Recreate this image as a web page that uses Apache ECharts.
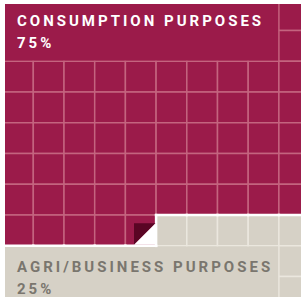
<!DOCTYPE html>
<html>
<head>
<meta charset="utf-8">
<script src="https://cdn.jsdelivr.net/npm/echarts@6/dist/echarts.min.js"></script>
<style>
  html, body { margin: 0; padding: 0; background: #fff; }
  #chart { width: 301px; height: 297px; }
  #chart text { letter-spacing: 3px; }
</style>
</head>
<body>
<div id="chart"></div>
<script>
// waffle chart, 10 x 10 cells filled in reading order
const categories = ["CONSUMPTION PURPOSES", "AGRI/BUSINESS PURPOSES"];
const shares = [75, 25];
const shareLabels = ["75%", "25%"];
const columns = 10;
const rows = 10;

const fills = ["#9b1b4a", "#d6d1c6"];
const lineColors = ["#c4647f", "#ebe7de"];
const textColors = ["#ffffff", "#7a766e"];

// one entry per cell: [col, row, category]
let cells = [];
let k = 0;
shares.forEach(function (n, ci) {
  for (let i = 0; i < n; i++) {
    cells.push([k % columns, Math.floor(k / columns), ci]);
    k++;
  }
});

// label boxes: top block for the first share, bottom block for the second
let labelBoxes = [[0, 0, 0], [0, rows - 2, 1]];

function catAt(col, row) {
  if (col >= columns || row >= rows) return -1;
  return cells[row * columns + col][2];
}

function renderCell(params, api) {
  let c = api.value(0), r = api.value(1), ci = api.value(2);
  let p0 = api.coord([c, r]);
  let p1 = api.coord([c + 1, r + 1]);
  return {
    type: "rect",
    shape: { x: p0[0], y: p0[1], width: p1[0] - p0[0], height: p1[1] - p0[1] },
    style: { fill: fills[ci], stroke: lineColors[ci], lineWidth: 1.5 }
  };
}

function renderLabel(params, api) {
  let c = api.value(0), r = api.value(1), ci = api.value(2);
  let p0 = api.coord([c, r]);
  let p1 = api.coord([c + columns - 1, r + 2]);
  let font = "bold 15px Roboto";
  return {
    type: "group",
    children: [
      {
        type: "rect",
        shape: { x: p0[0] + 0.75, y: p0[1] + 0.75, width: p1[0] - p0[0] - 1.5, height: p1[1] - p0[1] - 1.5 },
        style: { fill: fills[ci] }
      },
      {
        type: "text",
        x: p0[0] + 14.4,
        y: p0[1] + 21.6,
        style: { text: categories[ci], fill: textColors[ci], font: font, verticalAlign: "middle" }
      },
      {
        type: "text",
        x: p0[0] + 14.4,
        y: p0[1] + 43.2,
        style: { text: shareLabels[ci], fill: textColors[ci], font: font, verticalAlign: "middle" }
      }
    ]
  };
}

// white border where the two shares meet, plus the folded corner
function renderEdge(params, api) {
  let c = api.value(0), r = api.value(1), ci = api.value(2);
  let p0 = api.coord([c, r]);
  let p1 = api.coord([c + 1, r + 1]);
  let children = [];
  let right = catAt(c + 1, r);
  let below = catAt(c, r + 1);
  if (right >= 0 && right !== ci) {
    children.push({
      type: "line",
      shape: { x1: p1[0], y1: p0[1] - 1.25, x2: p1[0], y2: p1[1] + 1.25 },
      style: { stroke: "#fff", lineWidth: 2.5 }
    });
  }
  if (below >= 0 && below !== ci) {
    children.push({
      type: "line",
      shape: { x1: p0[0] - 1.25, y1: p1[1], x2: p1[0] + 1.25, y2: p1[1] },
      style: { stroke: "#fff", lineWidth: 2.5 }
    });
  }
  if (params.dataIndex === shares[0] - 1) {
    let s = 0.7 * (p1[0] - p0[0]);
    let x1 = p1[0] - 0.6, y1 = p1[1] - 1.2;
    children.push({
      type: "polygon",
      shape: { points: [[x1 - s, y1 - s], [x1, y1 - s], [x1 - s, y1]] },
      style: { fill: "#5a0524" }
    });
    children.push({
      type: "polygon",
      shape: { points: [[x1, y1 - s], [x1, y1], [x1 - s, y1]] },
      style: { fill: "#ffffff" }
    });
  }
  return { type: "group", children: children };
}

let option = {
  animation: false,
  grid: { left: 5.7, top: 4, right: 0, bottom: 0, containLabel: false },
  xAxis: { type: "value", min: 0.101, max: 9.72, show: false },
  yAxis: { type: "value", min: 0.135, max: 9.663, inverse: true, show: false },
  series: [
    { type: "custom", name: "cells", z: 1, clip: true, renderItem: renderCell, data: cells },
    { type: "custom", name: "labels", z: 2, clip: true, renderItem: renderLabel, data: labelBoxes },
    { type: "custom", name: "edges", z: 3, clip: true, renderItem: renderEdge, data: cells }
  ]
};

let myChart = echarts.init(document.getElementById("chart"), null, { renderer: "svg" });
myChart.setOption(option);
</script>
</body>
</html>
